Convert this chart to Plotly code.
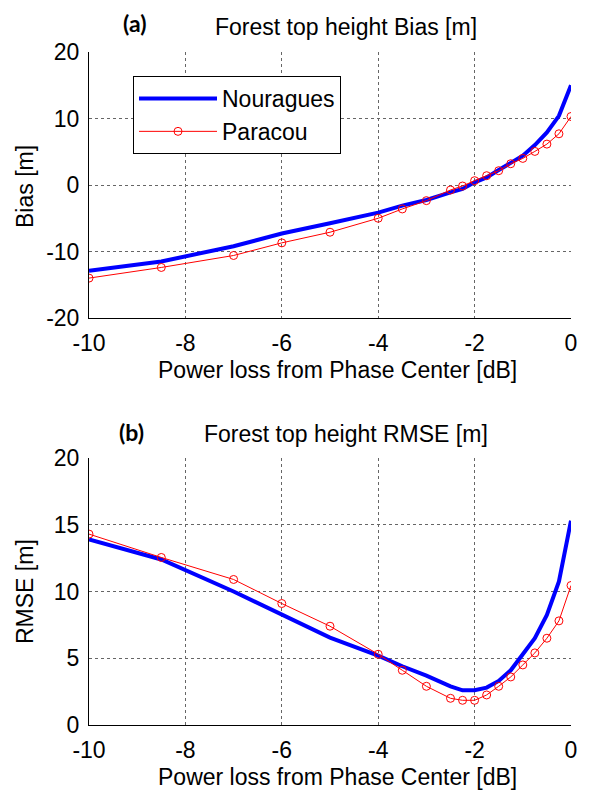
import plotly.graph_objects as go
from plotly.subplots import make_subplots

power_loss = [-10, -8.5, -7, -6, -5, -4, -3.5, -3, -2.5, -2.25, -2, -1.75, -1.5, -1.25, -1, -0.75, -0.5, -0.25, 0]

bias_nouragues = [-12.9, -11.5, -9.2, -7.3, -5.75, -4.15, -3.1, -2.25, -1.1, -0.6, 0.4, 1.15, 2.25, 3.25, 4.4, 6.0, 7.9, 10.4, 15.0]
bias_paracou = [-14.0, -12.4, -10.6, -8.7, -7.1, -5.0, -3.6, -2.35, -0.75, -0.15, 0.65, 1.4, 2.15, 3.2, 4.0, 5.05, 6.15, 7.7, 10.3]

rmse_nouragues = [13.9, 12.4, 10.0, 8.25, 6.55, 5.2, 4.4, 3.7, 2.9, 2.6, 2.6, 2.8, 3.3, 4.1, 5.25, 6.5, 8.25, 10.75, 15.3]
rmse_paracou = [14.3, 12.55, 10.9, 9.1, 7.4, 5.3, 4.1, 2.9, 2.0, 1.85, 1.85, 2.25, 2.9, 3.6, 4.5, 5.4, 6.5, 7.8, 10.45]

x_ticks = [-10, -8, -6, -4, -2, 0]
bias_ticks = [-20, -10, 0, 10, 20]
rmse_ticks = [0, 5, 10, 15, 20]

# page is 595x793; the figure div sits 8px in from the top-left (body margin)
OFF = 8
W, H = 595 - OFF, 793 - OFF

def fx(p):
    return p - OFF

def fy(p):
    return p - OFF

L = fx(89)
R = W - fx(571)
T = fy(52)
B = H - fy(725)
ph = H - T - B
pw = W - L - R

fig = make_subplots(rows=2, cols=1)

FONT = "Arial, Liberation Sans, sans-serif"
BLUE = "#0000ff"
RED = "#ff0000"
FS = 23

fig.add_trace(go.Scatter(x=power_loss, y=bias_nouragues, mode="lines", name="Nouragues",
                         line=dict(color=BLUE, width=4)), row=1, col=1)
fig.add_trace(go.Scatter(x=power_loss, y=bias_paracou, mode="lines+markers", name="Paracou",
                         line=dict(color=RED, width=1),
                         marker=dict(symbol="circle-open", size=8, color=RED, line=dict(width=1))), row=1, col=1)
fig.add_trace(go.Scatter(x=power_loss, y=rmse_nouragues, mode="lines", name="Nouragues", showlegend=False,
                         line=dict(color=BLUE, width=4)), row=2, col=1)
fig.add_trace(go.Scatter(x=power_loss, y=rmse_paracou, mode="lines+markers", name="Paracou", showlegend=False,
                         line=dict(color=RED, width=1),
                         marker=dict(symbol="circle-open", size=8, color=RED, line=dict(width=1))), row=2, col=1)

def px(xp):
    return (fx(xp) - L) / pw

def py(yp):
    return (H - B - fy(yp)) / ph

axis_common = dict(showgrid=True, gridcolor="#666666", griddash="dot", gridwidth=1,
                   showline=True, linecolor="black", linewidth=1, mirror=False,
                   zeroline=False, ticks="", tickfont=dict(family=FONT, size=FS, color="black"))

fig.update_xaxes(range=[-10, 0], tickvals=x_ticks, ticktext=[str(v) for v in x_ticks],
                 ticklabelstandoff=4, **axis_common)
fig.update_yaxes(**axis_common, ticklabelstandoff=4)
fig.update_yaxes(range=[-20, 20], tickvals=bias_ticks, ticktext=[str(v) for v in bias_ticks],
                 domain=[py(318), py(52)], row=1, col=1)
fig.update_yaxes(range=[0, 20], tickvals=rmse_ticks, ticktext=[str(v) for v in rmse_ticks],
                 domain=[py(725), py(458)], row=2, col=1)

ann = []
def add_text(text, xp, yp, size=FS, bold=False, family=FONT, angle=0):
    ann.append(dict(text=("<b>%s</b>" % text) if bold else text, x=px(xp), y=py(yp),
                    xref="paper", yref="paper", xanchor="center", yanchor="middle",
                    showarrow=False, textangle=angle,
                    font=dict(family=family, size=size, color="black")))

add_text("(a)", 134, 23, size=23, bold=True, family="Lato, Open Sans, sans-serif")
add_text("Forest top height Bias [m]", 346, 27)
add_text("Power loss from Phase Center [dB]", 337, 370)
add_text("Bias [m]", 25, 187, angle=-90)

add_text("(b)", 131, 432, size=23, bold=True, family="Lato, Open Sans, sans-serif")
add_text("Forest top height RMSE [m]", 346, 434)
add_text("Power loss from Phase Center [dB]", 337, 777)
add_text("RMSE [m]", 25, 592, angle=-90)

fig.update_layout(
    width=W, height=H,
    margin=dict(l=L, r=R, t=T, b=B),
    paper_bgcolor="white", plot_bgcolor="white",
    annotations=ann,
    legend=dict(x=px(133), y=py(76), xanchor="left", yanchor="top",
                bgcolor="white", bordercolor="black", borderwidth=1,
                font=dict(family=FONT, size=FS, color="black"),
                itemwidth=78, tracegroupgap=0),
    showlegend=True,
)

fig.write_html("out.html")
